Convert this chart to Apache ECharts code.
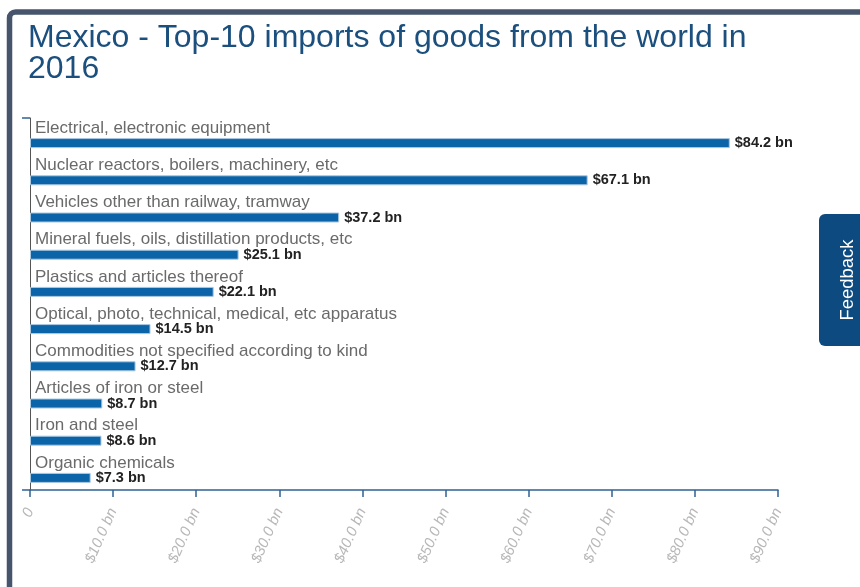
<!DOCTYPE html>
<html>
<head>
<meta charset="utf-8">
<script src="https://cdn.jsdelivr.net/npm/echarts@6/dist/echarts.min.js"></script>
<style>
  html, body { margin: 0; padding: 0; background: #ffffff; }
  #chart { width: 860px; height: 587px; }
</style>
</head>
<body>
<div id="chart"></div>
<script>
// Top-10 import categories, largest first
const categories = [
  'Electrical, electronic equipment',
  'Nuclear reactors, boilers, machinery, etc',
  'Vehicles other than railway, tramway',
  'Mineral fuels, oils, distillation products, etc',
  'Plastics and articles thereof',
  'Optical, photo, technical, medical, etc apparatus',
  'Commodities not specified according to kind',
  'Articles of iron or steel',
  'Iron and steel',
  'Organic chemicals'
];
// Import values in US$ billions
const importValues = [84.2, 67.1, 37.2, 25.1, 22.1, 14.5, 12.7, 8.7, 8.6, 7.3];
// Value axis ticks
const axisMin = 0;
const axisMax = 90;
const axisStep = 10;

const FONT = 'Liberation Sans, Arial, sans-serif';
const chart = echarts.init(document.getElementById('chart'), null, { renderer: 'canvas' });

const fmtBn = v => '$' + v.toFixed(1) + ' bn';

chart.setOption({
  animation: false,
  backgroundColor: '#ffffff',
  title: {
    text: 'Mexico - Top-10 imports of goods from the world in\n2016',
    left: 23,
    top: 18,
    textStyle: {
      fontFamily: FONT,
      fontSize: 32,
      fontWeight: 'normal',
      color: '#1b4f7e',
      lineHeight: 31
    }
  },
  graphic: [
    // page frame: top and left borders
    {
      type: 'rect',
      shape: { x: 9.5, y: 12, width: 900, height: 700, r: [6, 0, 0, 0] },
      style: { fill: 'none', stroke: '#46556c', lineWidth: 5.5 },
      silent: true,
      z: 10
    },
    // feedback tab
    {
      type: 'rect',
      shape: { x: 819, y: 214, width: 60, height: 132, r: 6 },
      style: { fill: '#0d4a7f' },
      silent: true,
      z: 10
    },
    {
      type: 'text',
      x: 848,
      y: 280,
      rotation: Math.PI / 2,
      style: {
        text: 'Feedback',
        fill: '#ffffff',
        font: '18.5px Liberation Sans, Arial, sans-serif',
        align: 'center',
        verticalAlign: 'middle'
      },
      silent: true,
      z: 11
    }
  ],
  grid: {
    left: 30,
    right: 82,
    top: 118,
    bottom: 97,
    containLabel: false
  },
  xAxis: {
    type: 'value',
    min: axisMin,
    max: axisMax,
    interval: axisStep,
    splitLine: { show: false },
    axisLine: { show: true, lineStyle: { color: '#2f6392', width: 1.5 } },
    axisTick: { show: true, length: 7, lineStyle: { color: '#2f6392', width: 1.5 } },
    axisLabel: {
      rotate: 66,
      margin: 19,
      color: '#b8b8b8',
      fontStyle: 'italic',
      fontSize: 15,
      fontFamily: FONT,
      formatter: v => v === 0 ? '0' : fmtBn(v)
    }
  },
  yAxis: {
    type: 'category',
    data: categories,
    inverse: true,
    axisLine: { show: true, lineStyle: { color: '#555555', width: 1 } },
    axisTick: {
      show: true,
      length: 8,
      interval: idx => idx === 0,
      lineStyle: { color: '#2f6392', width: 1.5 }
    },
    axisLabel: {
      inside: true,
      margin: 5,
      align: 'left',
      verticalAlign: 'bottom',
      color: '#6a6a6a',
      fontSize: 17,
      fontFamily: FONT,
      textBorderColor: '#ffffff',
      textBorderWidth: 2
    },
    splitLine: { show: false }
  },
  series: [
    // spacer series that pushes the visible bars toward the lower part of each row
    {
      type: 'bar',
      data: categories.map(() => 0),
      barWidth: 10,
      barGap: '30%',
      itemStyle: { color: 'rgba(0,0,0,0)' },
      silent: true
    },
    {
      type: 'bar',
      data: importValues,
      barWidth: 10,
      barGap: '30%',
      itemStyle: {
        color: '#0b63a8',
        borderColor: '#a9c8e2',
        borderWidth: 1
      },
      label: {
        show: true,
        position: 'right',
        distance: 5,
        color: '#222222',
        fontWeight: 'bold',
        fontSize: 14.5,
        fontFamily: FONT,
        formatter: p => fmtBn(p.value)
      }
    }
  ]
});
</script>
</body>
</html>
